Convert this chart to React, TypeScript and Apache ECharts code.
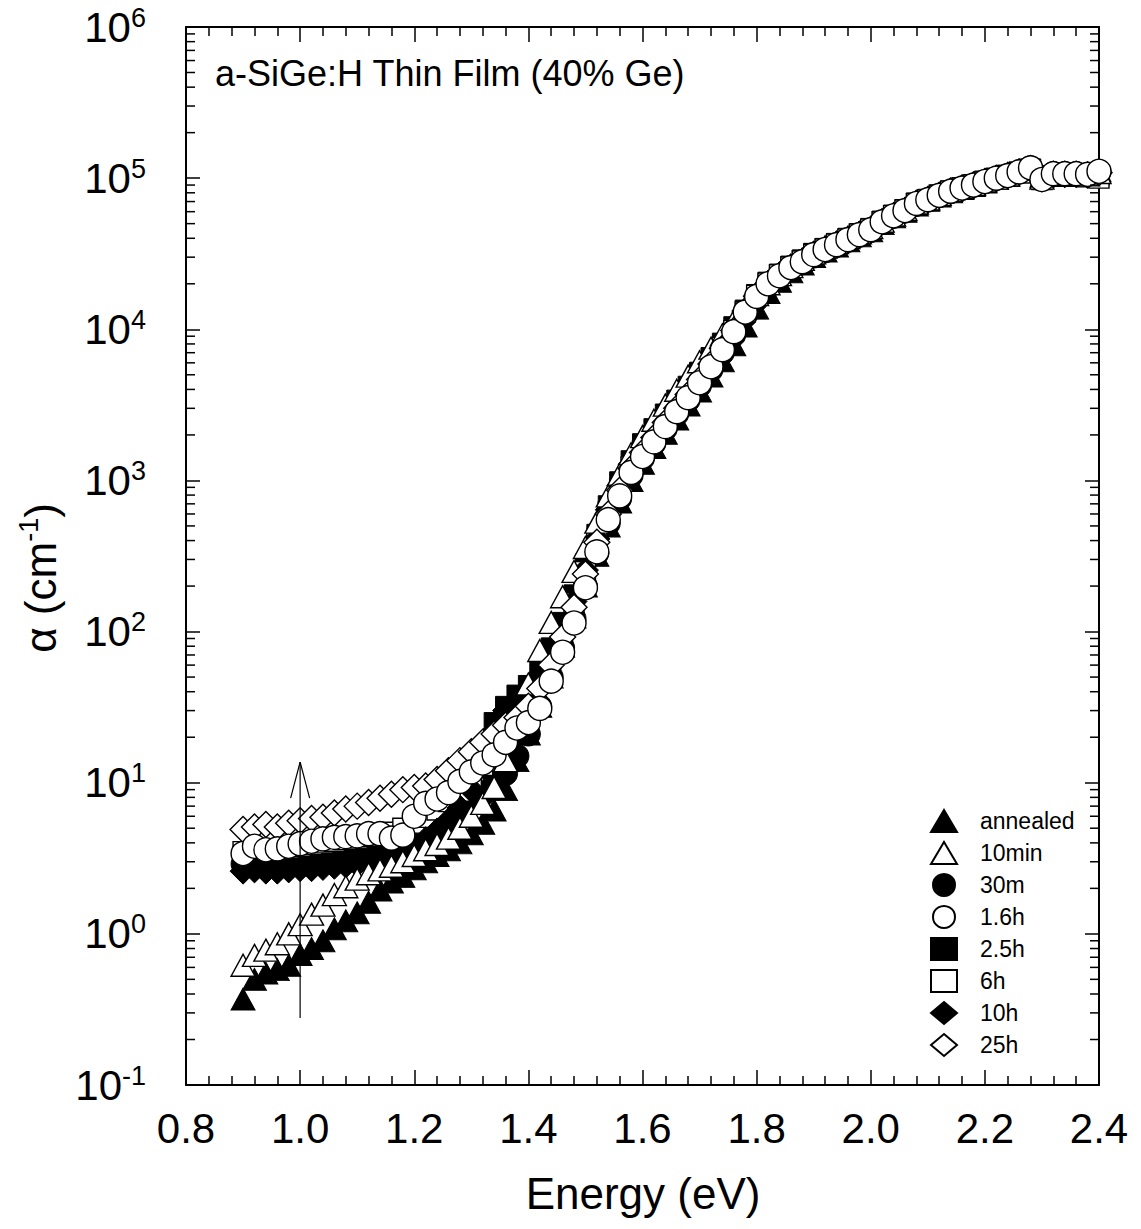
import React, { useEffect, useRef } from 'react';
import * as echarts from 'echarts';

const FONT = '"Liberation Sans", Arial, Helvetica, sans-serif';

const energy = [
  0.90, 0.92, 0.94, 0.96, 0.98, 1.00, 1.02, 1.04, 1.06, 1.08,
  1.10, 1.12, 1.14, 1.16, 1.18, 1.20, 1.22, 1.24, 1.26, 1.28,
  1.30, 1.32, 1.34, 1.36, 1.38, 1.40, 1.42, 1.44, 1.46, 1.48,
  1.50, 1.52, 1.54, 1.56, 1.58, 1.60, 1.62, 1.64, 1.66, 1.68,
  1.70, 1.72, 1.74, 1.76, 1.78, 1.80, 1.82, 1.84, 1.86, 1.88,
  1.90, 1.92, 1.94, 1.96, 1.98, 2.00, 2.02, 2.04, 2.06, 2.08,
  2.10, 2.12, 2.14, 2.16, 2.18, 2.20, 2.22, 2.24, 2.26, 2.28,
  2.30, 2.32, 2.34, 2.36, 2.38, 2.40,
];

const annealed = [
  0.37, 0.5, 0.55, 0.58, 0.62, 0.73, 0.8, 0.9, 1.08, 1.22,
  1.38, 1.62, 1.95, 2.2, 2.4, 2.7, 3.0, 3.3, 3.6, 4.0,
  4.6, 5.4, 6.6, 9, 14, 21, 32, 50, 80, 125,
  200, 320, 500, 720, 1000, 1300, 1650, 2050, 2550, 3150,
  3900, 4900, 6200, 7900, 10500, 13800, 17500, 20800, 24000, 27000,
  30300, 33000, 35600, 38500, 41500, 44800, 50000, 55500, 60300, 66500,
  71300, 76300, 81300, 85300, 89300, 94300, 99300, 104000, 110000, 118000,
  103000, 108000, 108000, 108000, 108000, 112000,
];

const min10 = [
  0.62, 0.72, 0.78, 0.86, 1.0, 1.15, 1.35, 1.55, 1.82, 2.05,
  2.3, 2.5, 2.65, 2.8, 3.0, 3.3, 3.6, 3.9, 4.3, 5.0,
  6.0, 7.3, 9.3, 14, 25, 45, 75, 115, 170, 250,
  360, 530, 790, 1100, 1500, 1950, 2500, 3150, 3950, 4900,
  6100, 7500, 9200, 11300, 13900, 17000, 20000, 23000, 26000, 29000,
  32000, 35000, 37500, 40500, 43500, 47000, 52000, 57000, 62000, 68500,
  73000, 78000, 83000, 87000, 91000, 96000, 100000, 105000, 110000, 116000,
  100000, 106000, 106000, 106000, 105000, 109000,
];

const min30 = [
  2.9, 3.0, 2.95, 3.0, 3.05, 3.1, 3.15, 3.2, 3.25, 3.3,
  3.35, 3.45, 3.55, 3.7, 3.9, 4.2, 4.6, 5.1, 5.7, 6.4,
  7.3, 8.4, 9.8, 11.5, 15, 21, 32, 50, 78, 122,
  200, 330, 520, 760, 1080, 1400, 1760, 2200, 2750, 3400,
  4250, 5400, 7000, 9200, 12300, 15800, 19200, 22000, 25000, 27500,
  30500, 33000, 35800, 38700, 41800, 45000, 50800, 55800, 60500, 67000,
  71500, 76500, 81500, 85500, 89500, 94500, 99500, 104000, 110000, 117000,
  99000, 107000, 107000, 107000, 106000, 110000,
];

const hour1_6 = [
  3.4, 3.8, 3.6, 3.65, 3.8, 3.95, 4.1, 4.25, 4.35, 4.4,
  4.45, 4.6, 4.6, 4.3, 4.5, 6.0, 7.3, 7.8, 8.6, 10.2,
  11.8, 13.5, 15.3, 18.5, 23, 25, 31, 47, 73, 114,
  195, 337, 550, 790, 1130, 1440, 1800, 2270, 2850, 3530,
  4430, 5650, 7330, 9640, 13000, 16500, 20000, 22600, 25600, 28000,
  31200, 33700, 36300, 39200, 42300, 45600, 51400, 56400, 61000, 68000,
  72000, 77000, 82000, 86000, 90000, 95000, 100000, 104000, 110000, 117000,
  98000, 107000, 107000, 107000, 106000, 111000,
];

const hour2_5 = [
  3.0, 3.1, 3.1, 3.1, 3.2, 3.2, 3.3, 3.3, 3.4, 3.4,
  3.5, 3.6, 3.7, 3.9, 4.1, 4.4, 4.8, 5.5, 6.5, 8.0,
  10.5, 16, 25, 32, 38, 44, 56, 78, 115, 175,
  280, 440, 680, 980, 1350, 1750, 2200, 2750, 3400, 4200,
  5200, 6500, 8100, 10400, 13400, 17000, 20500, 23200, 26200, 28800,
  31800, 34300, 37000, 40000, 43000, 46500, 52000, 57000, 62000, 68500,
  72500, 77500, 82500, 86500, 90500, 95500, 100000, 104500, 110000, 115000,
  99000, 104000, 105000, 105000, 104000, 104000,
];

const hour6 = [
  3.5, 3.6, 3.6, 3.6, 3.7, 3.8, 3.9, 4.0, 4.1, 4.2,
  4.3, 4.4, 4.5, 4.7, 5.0, 5.4, 5.9, 6.6, 7.5, 8.8,
  10.5, 13, 17, 22, 28, 35, 46, 66, 100, 155,
  250, 400, 620, 880, 1230, 1580, 1980, 2480, 3080, 3830,
  4780, 6000, 7600, 9800, 13000, 16800, 20200, 22900, 25800, 28300,
  31400, 34000, 36600, 39500, 42600, 46000, 51500, 56500, 61500, 68000,
  72000, 77000, 82000, 86000, 90000, 95000, 99500, 104000, 109000, 114000,
  98000, 103000, 103000, 103000, 102000, 100000,
];

const hour10 = [
  2.6, 2.65, 2.6, 2.6, 2.65, 2.7, 2.7, 2.75, 2.8, 2.85,
  2.9, 3.0, 3.1, 3.3, 3.5, 3.8, 4.2, 4.8, 5.6, 6.8,
  9, 13, 22, 30, 35, 40, 50, 70, 102, 158,
  255, 410, 640, 920, 1280, 1680, 2150, 2700, 3350, 4150,
  5150, 6450, 8050, 10300, 13300, 16800, 20200, 23000, 25900, 28400,
  31500, 34000, 36700, 39600, 42700, 46000, 51600, 56600, 61500, 68200,
  72300, 77300, 82300, 86300, 90300, 95300, 100000, 104500, 110500, 116000,
  100000, 106000, 106000, 106000, 105000, 108000,
];

const hour25 = [
  4.9, 5.1, 5.3, 5.1, 5.4, 5.6, 5.8, 5.9, 6.3, 6.7,
  7.0, 7.4, 7.9, 8.4, 9.0, 9.3, 9.5, 10.5, 12, 14,
  16, 18.5, 21, 24, 27, 32, 42, 60, 92, 145,
  240, 390, 600, 860, 1200, 1530, 1920, 2420, 3000, 3700,
  4650, 5900, 7500, 9800, 13000, 16500, 20000, 22700, 25700, 28100,
  31300, 33800, 36400, 39300, 42400, 45700, 51500, 56500, 61200, 68100,
  72100, 77100, 82100, 86100, 90100, 95100, 100000, 104000, 110000, 116000,
  99000, 106000, 106000, 106000, 105000, 109000,
];

const legendOrder = ['annealed', '10min', '30m', '1.6h', '2.5h', '6h', '10h', '25h'];
const titleText = 'a-SiGe:H Thin Film (40% Ge)';
const arrowSpan = [[1.0, 0.278, 13.7]];

export default function App() {
  const ref = useRef<HTMLDivElement>(null);
  useEffect(() => {
    document.body.style.margin = '0';
    const chart = echarts.init(ref.current!, null, { renderer: 'svg' });

    const minorTicks: number[][] = [];
    for (let e = -1; e < 6; e++) {
      for (let m = 2; m <= 9; m++) minorTicks.push([0.8, m * Math.pow(10, e)]);
    }

    const mk = (name: string, values: number[], symbol: string, size: any, filled: boolean) => ({
      type: 'scatter',
      name,
      data: energy.map((e, i) => [e, values[i]]),
      symbol,
      symbolSize: size,
      itemStyle: filled
        ? { color: '#000', borderColor: '#000', borderWidth: 1, opacity: 1 }
        : { color: '#fff', borderColor: '#000', borderWidth: 1.4, opacity: 1 },
      emphasis: { disabled: true },
      z: 2,
    });

    const tickStyle = { color: '#000', width: 1.5 };

    const option: any = {
      animation: false,
      backgroundColor: '#fff',
      textStyle: { fontFamily: FONT },
      grid: { left: 186, right: 42, top: 27, bottom: 144, containLabel: false },
      legend: {
        data: legendOrder,
        orient: 'vertical',
        left: 925,
        top: 804,
        itemWidth: 26,
        itemHeight: 22,
        itemGap: 8,
        selectedMode: false,
        textStyle: { fontSize: 23, color: '#000', fontFamily: FONT, padding: [0, 0, 0, 18] },
      },
      xAxis: [
        {
          type: 'value', min: 0.8, max: 2.4, interval: 0.2,
          axisLine: { lineStyle: { color: '#000', width: 2 } },
          axisTick: { inside: true, length: 15, lineStyle: tickStyle },
          minorTick: { show: true, splitNumber: 5, length: 9, lineStyle: tickStyle },
          splitLine: { show: false },
          axisLabel: {
            fontSize: 42, color: '#000', margin: 22, fontFamily: FONT,
            formatter: (v: number) => v.toFixed(1),
            showMinLabel: true, showMaxLabel: true,
          },
        },
        {
          type: 'value', min: 0.8, max: 2.4, interval: 0.2, position: 'top',
          axisLine: { lineStyle: { color: '#000', width: 2 } },
          axisTick: { inside: true, length: 15, lineStyle: tickStyle },
          minorTick: { show: true, splitNumber: 5, length: 9, lineStyle: tickStyle },
          splitLine: { show: false },
          axisLabel: { show: false },
        },
      ],
      yAxis: [
        {
          type: 'log', min: 0.1, max: 1e6, logBase: 10, splitNumber: 7,
          axisLine: { lineStyle: { color: '#000', width: 2 } },
          axisTick: { inside: true, length: 14, lineStyle: tickStyle },
          splitLine: { show: false },
          axisLabel: {
            margin: 40, color: '#000', fontFamily: FONT,
            formatter: (v: number) => `{b|10}{s|${Math.round(Math.log10(v))}}`,
            rich: {
              b: { fontSize: 42, fontFamily: FONT, color: '#000', lineHeight: 46 },
              s: { fontSize: 27, fontFamily: FONT, color: '#000', verticalAlign: 'top', lineHeight: 30 },
            },
          },
        },
        {
          type: 'log', min: 0.1, max: 1e6, logBase: 10, splitNumber: 7, position: 'right',
          axisLine: { lineStyle: { color: '#000', width: 2 } },
          axisTick: { inside: true, length: 14, lineStyle: tickStyle },
          splitLine: { show: false },
          axisLabel: { show: false },
        },
      ],
      graphic: [
        {
          type: 'text', x: 215, y: 73,
          style: { text: titleText, font: `36px ${FONT}`, fill: '#000', textVerticalAlign: 'middle' },
        },
        {
          type: 'text', x: 643, y: 1193,
          style: { text: 'Energy (eV)', font: `44px ${FONT}`, fill: '#000', textAlign: 'center', textVerticalAlign: 'middle' },
        },
        {
          type: 'text', x: 40, y: 578, rotation: Math.PI / 2,
          style: {
            text: '{b|α (cm}{s|-1}{b|)}',
            textAlign: 'center', textVerticalAlign: 'middle',
            rich: {
              b: { fontSize: 44, fontFamily: FONT, fill: '#000', lineHeight: 50 },
              s: { fontSize: 27, fontFamily: FONT, fill: '#000', verticalAlign: 'top', lineHeight: 30 },
            },
          },
        },
      ],
      series: [
        mk('annealed', annealed, 'triangle', [24, 22], true),
        mk('30m', min30, 'circle', 24, true),
        mk('2.5h', hour2_5, 'rect', 20, true),
        mk('6h', hour6, 'rect', 20, false),
        mk('10h', hour10, 'diamond', 26, true),
        mk('10min', min10, 'triangle', [24, 22], false),
        mk('25h', hour25, 'diamond', 26, false),
        mk('1.6h', hour1_6, 'circle', 24, false),
        {
          type: 'custom',
          name: 'minorTicks',
          silent: true,
          clip: false,
          z: 5,
          data: minorTicks,
          renderItem: (_p: any, api: any) => {
            const v = api.value(1);
            const l = api.coord([0.8, v]);
            const r = api.coord([2.4, v]);
            return {
              type: 'group',
              children: [
                { type: 'line', shape: { x1: l[0], y1: l[1], x2: l[0] + 9, y2: l[1] }, style: { stroke: '#000', lineWidth: 1.5 } },
                { type: 'line', shape: { x1: r[0] - 9, y1: r[1], x2: r[0], y2: r[1] }, style: { stroke: '#000', lineWidth: 1.5 } },
              ],
            };
          },
        },
        {
          type: 'custom',
          name: 'arrow',
          silent: true,
          z: 10,
          data: arrowSpan,
          encode: { x: 0, y: [1, 2] },
          renderItem: (_p: any, api: any) => {
            const x = api.value(0);
            const a = api.coord([x, api.value(1)]);
            const b = api.coord([x, api.value(2)]);
            const st = { stroke: '#000', lineWidth: 1.2, fill: 'none' };
            return {
              type: 'group',
              children: [
                { type: 'line', shape: { x1: a[0], y1: a[1], x2: b[0], y2: b[1] }, style: st },
                { type: 'line', shape: { x1: b[0], y1: b[1], x2: b[0] - 9.5, y2: b[1] + 36 }, style: st },
                { type: 'line', shape: { x1: b[0], y1: b[1], x2: b[0] + 9.5, y2: b[1] + 36 }, style: st },
              ],
            };
          },
        },
      ],
    };
    chart.setOption(option);
    return () => chart.dispose();
  }, []);
  return <div ref={ref} style={{ width: 1141, height: 1229 }} />;
}
